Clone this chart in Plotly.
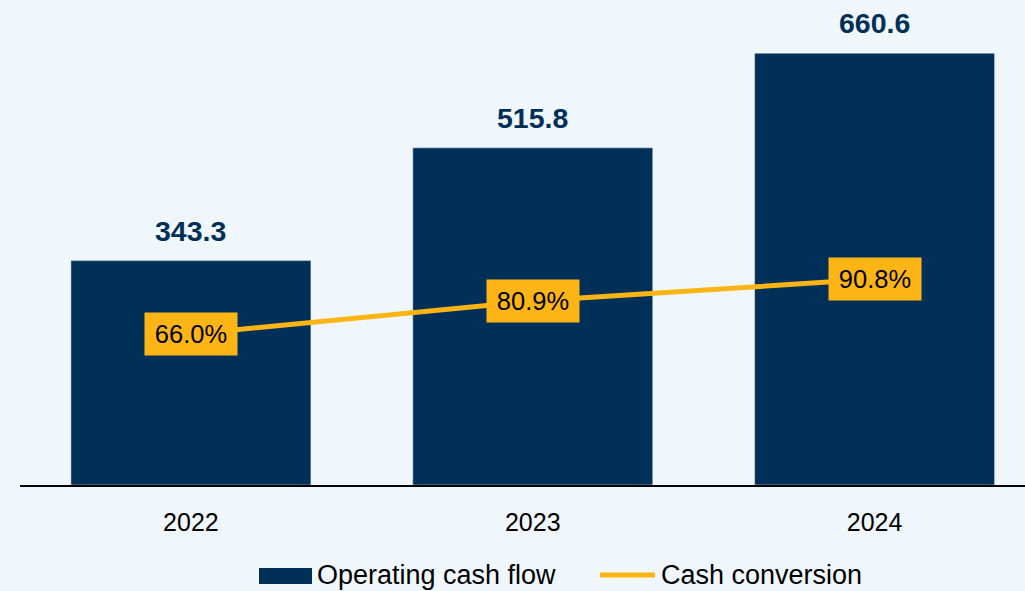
import plotly.graph_objects as go

years = ["2022", "2023", "2024"]
cash_flow = [343.3, 515.8, 660.6]
conversion = [66.0, 80.9, 90.8]
cash_flow_labels = ["343.3", "515.8", "660.6"]
conversion_labels = ["66.0%", "80.9%", "90.8%"]

NAVY = "#003057"
ORANGE = "#FDB515"
BG = "#EFF7FD"

fig = go.Figure()
fig.add_trace(go.Bar(x=years, y=cash_flow, marker_color=NAVY, width=0.702,
                     name="Operating cash flow", showlegend=False))
fig.add_trace(go.Scatter(x=years, y=conversion, mode="lines", yaxis="y2",
                         line=dict(color=ORANGE, width=5),
                         name="Cash conversion", showlegend=False))

# category axis: annotations positioned by category index
for i, (y, t) in enumerate(zip(cash_flow, cash_flow_labels)):
    fig.add_annotation(x=i, y=y, xref="x", yref="y", text=f"<b>{t}</b>",
                       showarrow=False, yanchor="middle", yshift=30,
                       font=dict(family="Arial", size=28.5, color=NAVY))
for i, (y, t) in enumerate(zip(conversion, conversion_labels)):
    fig.add_annotation(x=i, y=y, xref="x", yref="y2", text=t,
                       showarrow=False, bgcolor=ORANGE, width=86, height=36,
                       borderpad=3, xanchor="center", yanchor="middle",
                       font=dict(family="Arial", size=25.5, color="#000000"))

# custom legend
ly = -(575 - 485) / 485
fig.add_shape(type="rect", xref="paper", yref="paper",
              x0=(259-20)/1005, x1=(312-20)/1005, y0=-(568-485)/485, y1=-(584-485)/485,
              fillcolor=NAVY, line_width=0)
fig.add_shape(type="line", xref="paper", yref="paper",
              x0=(600-20)/1005, x1=(655-20)/1005, y0=ly, y1=ly,
              line=dict(color=ORANGE, width=5))
fig.add_annotation(xref="paper", yref="paper", x=(315-20)/1005, y=ly,
                   text="Operating cash flow", showarrow=False, xanchor="left", yanchor="middle",
                   font=dict(family="Arial", size=27, color="#000000"))
fig.add_annotation(xref="paper", yref="paper", x=(659-20)/1005, y=ly,
                   text="Cash conversion", showarrow=False, xanchor="left", yanchor="middle",
                   font=dict(family="Arial", size=27, color="#000000"))

fig.update_layout(
    width=1025, height=591,
    margin=dict(l=20, r=0, t=0, b=106),
    paper_bgcolor=BG, plot_bgcolor=BG,
    xaxis=dict(type="category", range=[-0.5, 2.44], showline=True, linecolor="#000000",
               linewidth=2, showgrid=False, zeroline=False, ticks="",
               ticklabelstandoff=14,
               tickfont=dict(family="Arial", size=25, color="#000000")),
    yaxis=dict(range=[0, 742], visible=False, showgrid=False, zeroline=False),
    yaxis2=dict(range=[-2, 216.6], overlaying="y", visible=False, showgrid=False, zeroline=False),
    bargap=0.3,
)

fig.write_html("out.html", config={"displayModeBar": False},
               post_script="document.body.style.margin='0';document.body.style.background='" + BG + "';")
